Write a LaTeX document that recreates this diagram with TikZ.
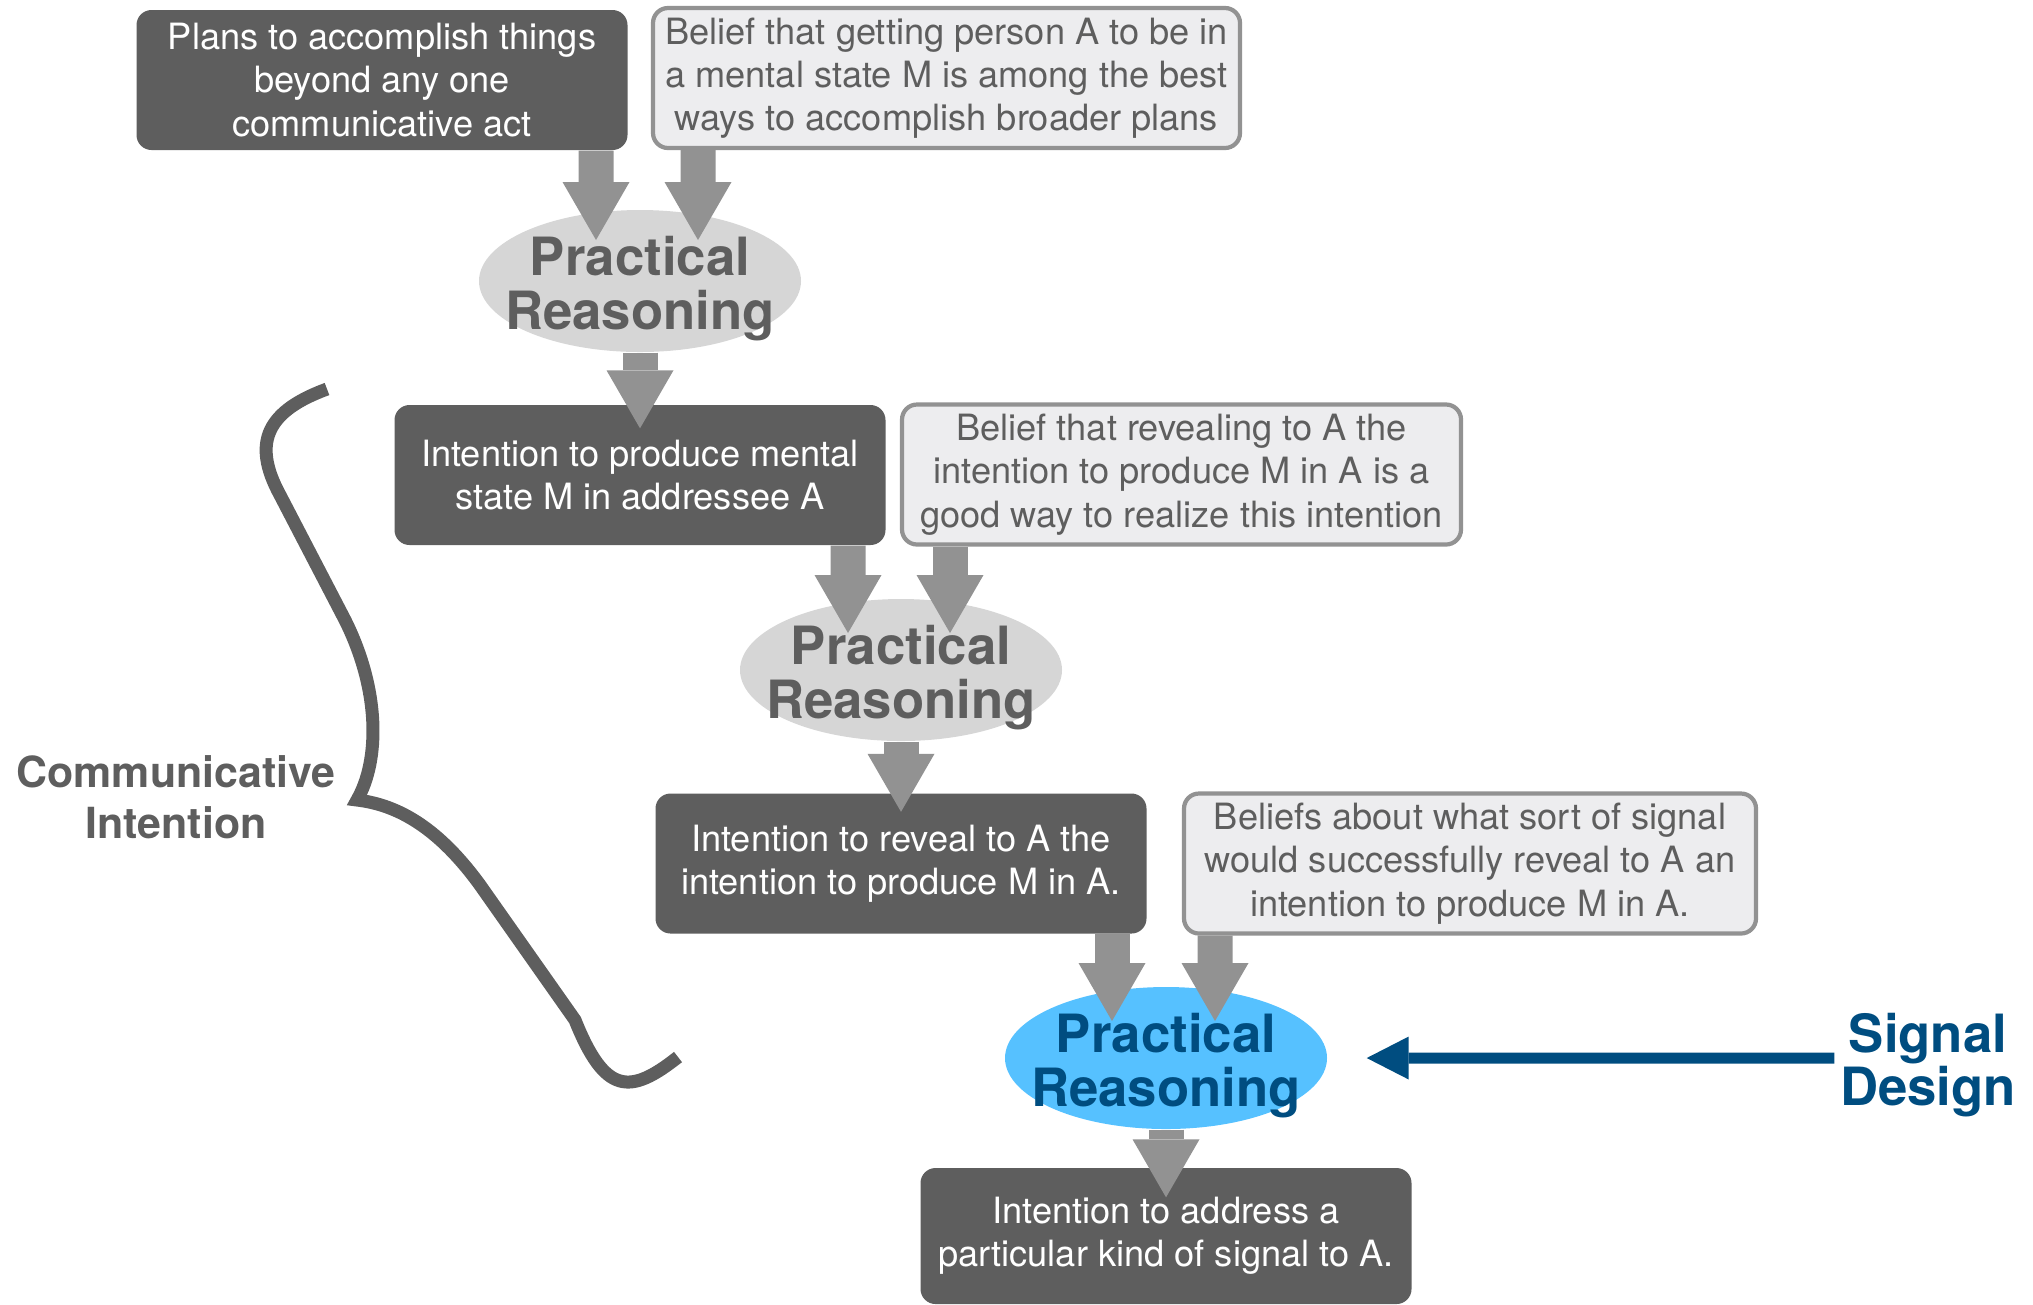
\documentclass[tikz,border=0pt]{standalone}
\usepackage{fontspec}
\setmainfont{TeX Gyre Heros}
\usepackage{tikz}
\usetikzlibrary{shapes.geometric, arrows.meta}

\definecolor{boxdark}{HTML}{5E5E5E}
\definecolor{boxlight}{HTML}{EDEDEF}
\definecolor{boxedge}{HTML}{929292}
\definecolor{arrowgray}{HTML}{929292}
\definecolor{ellgray}{HTML}{D6D6D6}
\definecolor{textgray}{HTML}{5E5E5E}
\definecolor{skyblue}{HTML}{56C1FF}
\definecolor{signalblue}{HTML}{004D80}

\tikzset{
	boxtext/.style = {align = center, inner sep = 0pt, font = \fontsize{10.3}{12.3}\selectfont},
	darkbox/.style = {boxtext, rectangle, rounded corners = 1.5mm, fill = boxdark, text = white, minimum width = 4.91cm, minimum height = 1.40cm},
	lightbox/.style = {boxtext, rectangle, rounded corners = 1.5mm, fill = boxlight, draw = boxedge, line width = 1.2pt, text = textgray, minimum height = 1.40cm},
	reasontext/.style = {align = center, yshift = -0.8mm, font = \fontsize{15}{15.4}\selectfont\bfseries},
	reason/.style = {ellipse, inner sep = 0pt, minimum width = 3.22cm, minimum height = 1.42cm},
	grayreason/.style = {reason, fill = ellgray, label = {[reasontext, text = textgray]center:{Practical\\Reasoning}}},
	bluereason/.style = {reason, fill = skyblue, label = {[reasontext, text = signalblue]center:{Practical\\Reasoning}}},
	fat/.style = {draw = arrowgray, line width = 3.5mm, -{Triangle[width = 6.7mm, length = 5.8mm, line width = 0pt]}}
}

\begin{document}
\begin{tikzpicture}
		\useasboundingbox (0, 0) rectangle (20.33, -13.04);
		\node[darkbox] (plans) at (3.82, -0.80) {Plans to accomplish things\\beyond any one\\communicative act};
		\node[lightbox, minimum width = 5.87cm] (belief1) at (9.465, -0.78) {Belief that getting person A to be in\\a mental state M is among the best\\ways to accomplish broader plans};
		\node[grayreason] (pr1) at (6.40, -2.81) {};
		\node[darkbox] (produce) at (6.40, -4.75) {Intention to produce mental\\state M in addressee A};
		\node[lightbox, minimum width = 5.59cm] (belief2) at (11.815, -4.745) {Belief that revealing to A the\\intention to produce M in A is a\\good way to realize this intention};
		\node[grayreason] (pr2) at (9.01, -6.70) {};
		\node[darkbox] (reveal) at (9.01, -8.635) {Intention to reveal to A the\\intention to produce M in A.};
		\node[lightbox, minimum width = 5.72cm] (belief3) at (14.70, -8.635) {Beliefs about what sort of signal\\would successfully reveal to A an\\intention to produce M in A.};
		\node[bluereason] (pr3) at (11.66, -10.58) {};
		\node[darkbox, minimum height = 1.36cm] (address) at (11.66, -12.36) {Intention to address a\\particular kind of signal to A.};
		\node[font = \fontsize{12.2}{14.4}\selectfont\bfseries, text = textgray, align = center] (commint) at (1.76, -7.97) {Communicative\\Intention};
		\node[font = \fontsize{15}{15.3}\selectfont\bfseries, text = signalblue, align = center, inner sep = 0.5mm] (signal) at (19.28, -10.65) {Signal\\Design};

		\draw[fat] ([xshift = 21.4mm]plans.south) -- ([xshift = -4.4mm, yshift = 4.1mm]pr1.center);
		\draw[fat] ([xshift = -24.85mm]belief1.south) -- ([xshift = 5.8mm, yshift = 4.1mm]pr1.center);
		\draw[fat] (pr1.south) -- ([yshift = -2.4mm]produce.north);
		\draw[fat] ([xshift = 20.8mm]produce.south) -- ([xshift = -5.3mm, yshift = 3.7mm]pr2.center);
		\draw[fat] ([xshift = -23.15mm]belief2.south) -- ([xshift = 4.9mm, yshift = 3.7mm]pr2.center);
		\draw[fat] (pr2.south) -- ([yshift = -1.9mm]reveal.north);
		\draw[fat] ([xshift = 21.1mm]reveal.south) -- ([xshift = -5.4mm, yshift = 3.7mm]pr3.center);
		\draw[fat] ([xshift = -25.5mm]belief3.south) -- ([xshift = 4.9mm, yshift = 3.7mm]pr3.center);
		\draw[fat] (pr3.south) -- ([yshift = -3mm]address.north);
		\draw[signalblue, line width = 1.1mm, -{Triangle[width = 4.3mm, length = 4.2mm, line width = 0pt]}] ([yshift = 0.7mm]signal.west) -- ([xshift = 3.9mm]pr3.east);

		\draw[boxdark, line width = 3.7pt] (3.27, -3.89) .. controls (2.70, -4.10) and (2.50, -4.40) .. (2.80, -4.95)
			-- (3.45, -6.20) .. controls (3.80, -6.90) and (3.80, -7.60) .. (3.57, -8.00)
			.. controls (4.00, -8.05) and (4.40, -8.30) .. (4.80, -8.85)
			-- (5.75, -10.20) .. controls (6.05, -10.95) and (6.30, -10.95) .. (6.78, -10.57);
		\end{tikzpicture}
\end{document}
